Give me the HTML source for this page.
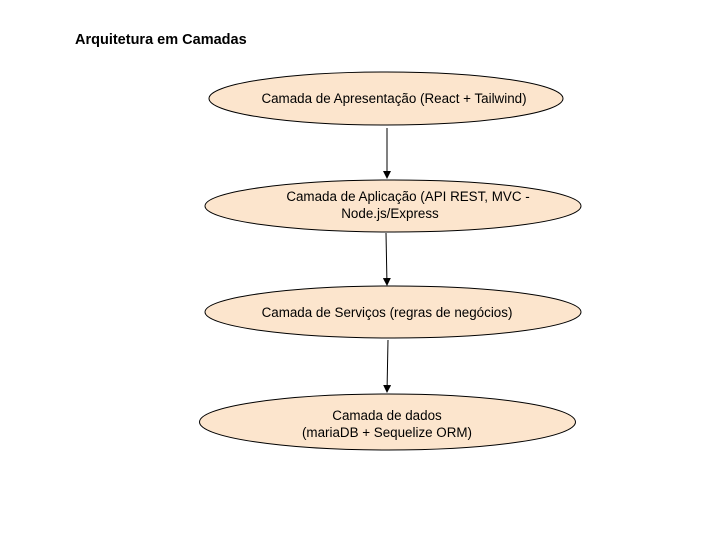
<!DOCTYPE html>
<html><head><style>body{margin:0;background:#fff}</style></head><body>
<svg width="720" height="540" xmlns="http://www.w3.org/2000/svg" font-family="Liberation Sans, Arial, sans-serif">
<defs><marker id="a" markerWidth="8" markerHeight="8" refX="7" refY="4" orient="auto" markerUnits="userSpaceOnUse"><path d="M0,0 L8,4 L0,8 z" fill="#000"/></marker></defs>
<rect width="720" height="540" fill="#fff"/>
<text x="75" y="44" font-size="14.5" font-weight="bold">Arquitetura em Camadas</text>
<g fill="#fce5cd" stroke="#000" stroke-width="1">
<ellipse cx="386" cy="98.5" rx="177" ry="26.5"/>
<ellipse cx="393" cy="206" rx="188" ry="26"/>
<ellipse cx="393" cy="312" rx="188" ry="26"/>
<ellipse cx="387.5" cy="422" rx="188" ry="28"/>
</g>
<g stroke="#000" stroke-width="1" marker-end="url(#a)">
<line x1="387" y1="128" x2="387" y2="178"/>
<line x1="386" y1="233" x2="387" y2="285"/>
<line x1="388" y1="340" x2="387" y2="392"/>
</g>
<g font-size="13.4" text-anchor="middle" fill="#000">
<text x="394" y="103">Camada de Apresentação (React + Tailwind)</text>
<text x="408" y="201">Camada de Aplicação (API REST, MVC -</text>
<text x="390" y="218">Node.js/Express</text>
<text x="387" y="317">Camada de Serviços (regras de negócios)</text>
<text x="387" y="420">Camada de dados</text>
<text x="387" y="437">(mariaDB + Sequelize ORM)</text>
</g>
</svg>
</body></html>
